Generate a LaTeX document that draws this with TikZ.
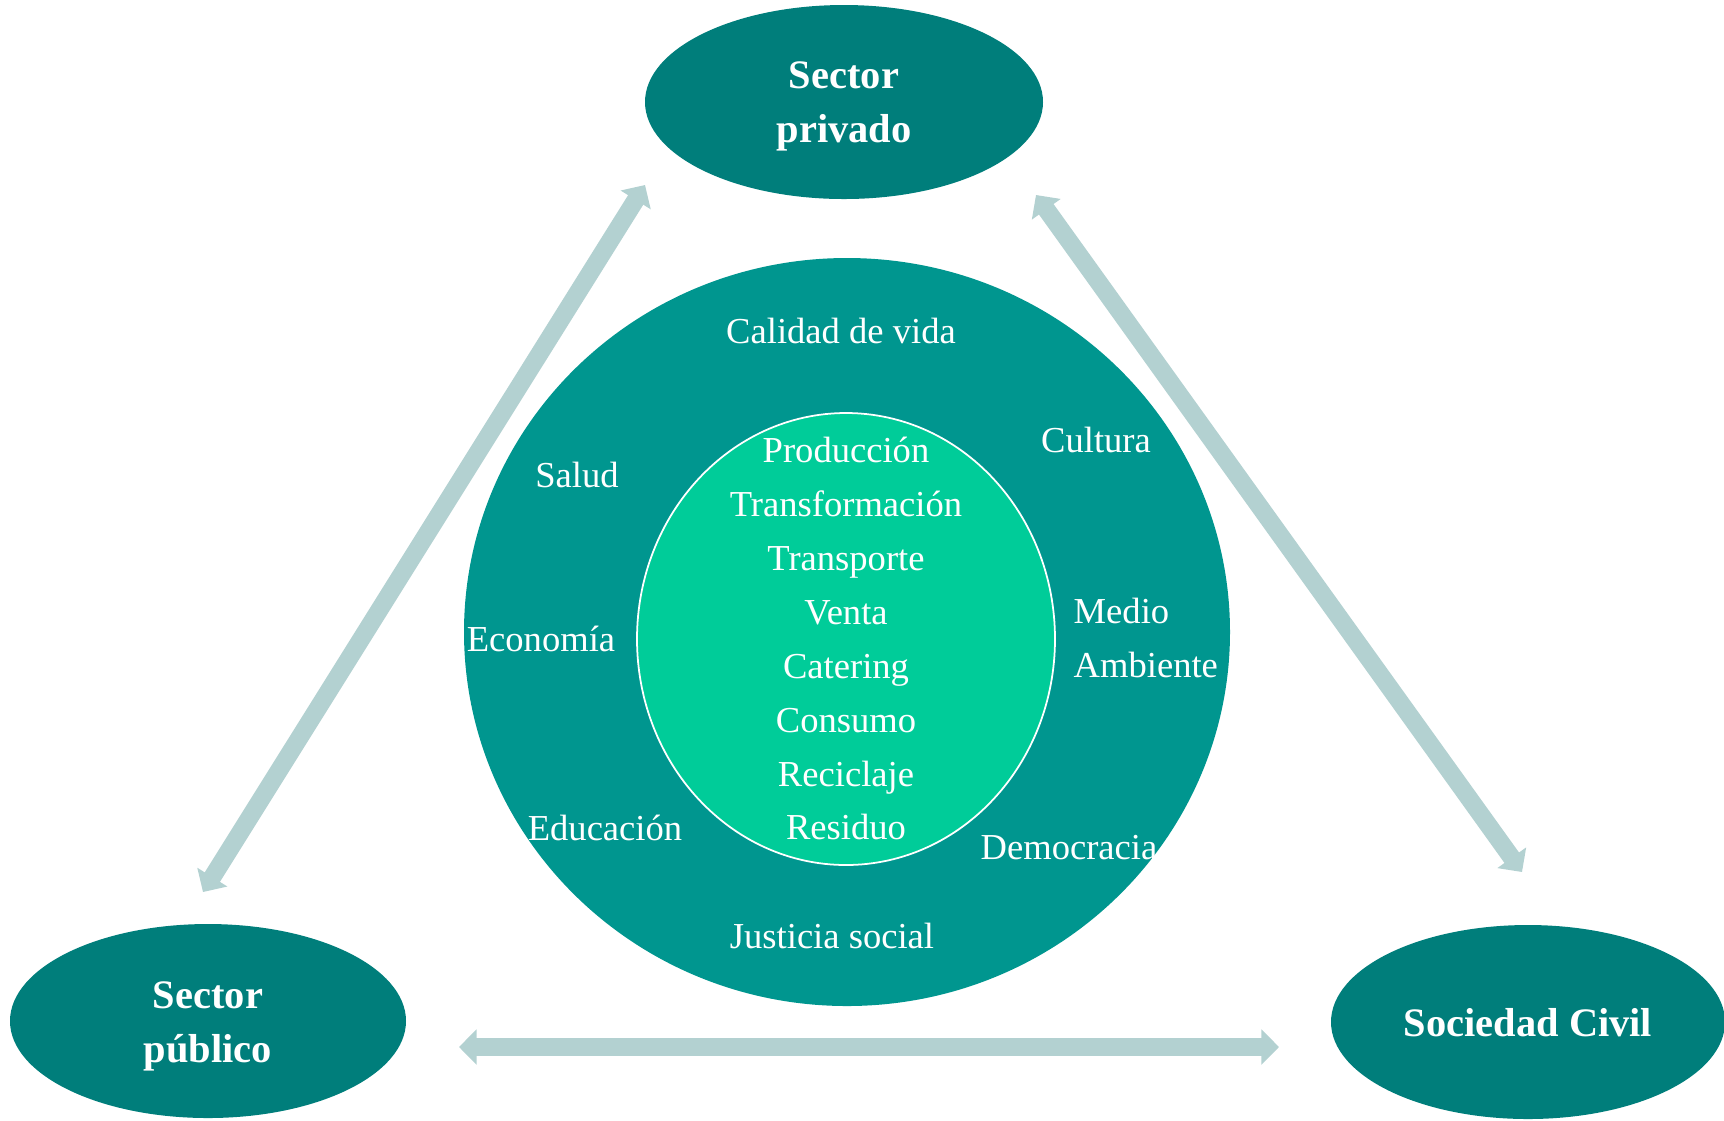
\documentclass[tikz,border=0pt]{standalone}
\usepackage{fontspec}
\setmainfont{Liberation Serif}
\usetikzlibrary{arrows.meta}
\definecolor{darkteal}{HTML}{007E7B}
\definecolor{midteal}{HTML}{00968F}
\definecolor{lightgreen}{HTML}{00CC99}
\definecolor{arrowgray}{HTML}{B3D1D1}
\begin{document}
\begin{tikzpicture}[x=0.01cm,y=-0.01cm,
  actorlbl/.style={text=white, font=\fontsize{11.5}{15.4}\selectfont\bfseries, align=center},
  lbl/.style={text=white, font=\fontsize{10.4}{15.4}\selectfont, inner sep=0pt, text height=7pt, text depth=2pt, yshift=-0.045cm},
  link/.style={line width=5.1pt, draw=arrowgray, {Triangle[width=9.8pt,length=5pt]}-{Triangle[width=9.8pt,length=5pt]}}
]
\useasboundingbox (0,0) rectangle (1724,1120);
% big circle
\fill[midteal] (847,632) ellipse [x radius=383, y radius=374];
\fill[lightgreen] (846,639) ellipse [x radius=209, y radius=226];
\draw[white, line width=0.5pt] (846,639) ellipse [x radius=209, y radius=226];
% actor ellipses
\fill[darkteal] (844,102) ellipse [x radius=199, y radius=97];
\fill[darkteal] (208,1021) ellipse [x radius=198, y radius=97];
\fill[darkteal] (1528,1022) ellipse [x radius=197, y radius=97];
\node[actorlbl] (priv) at (844,106) {Sector\\privado};
\node[actorlbl] (pub) at (208,1026) {Sector\\público};
\node[actorlbl] (civ) at (1528,1023) {Sociedad Civil};
% arrows
\coordinate (a1) at (203,892);
\coordinate (a2) at (645,185);
\coordinate (b1) at (1036,195);
\coordinate (b2) at (1522,872);
\coordinate (c1) at (459,1047);
\coordinate (c2) at (1279,1047);
\draw[link] (a1) -- (a2);
\draw[link] (b1) -- (b2);
\draw[link] (c1) -- (c2);
% outer ring labels
\node[lbl] (cal) at (841,330) {Calidad de vida};
\node[lbl] (sal) at (577,474) {Salud};
\node[lbl] (cul) at (1096,439) {Cultura};
\node[lbl] (eco) at (541,638) {Economía};
\node[lbl, anchor=west] (med) at (1073,610) {Medio};
\node[lbl, anchor=west] (amb) at (1073,664) {Ambiente};
\node[lbl] (edu) at (605,827) {Educación};
\node[lbl] (dem) at (1069,846) {Democracia};
\node[lbl] (jus) at (832,935) {Justicia social};
% inner labels
\node[lbl] (i1) at (846,449) {Producción};
\node[lbl] (i2) at (846,503) {Transformación};
\node[lbl] (i3) at (846,557) {Transporte};
\node[lbl] (i4) at (846,611) {Venta};
\node[lbl] (i5) at (846,665) {Catering};
\node[lbl] (i6) at (846,719) {Consumo};
\node[lbl] (i7) at (846,773) {Reciclaje};
\node[lbl] (i8) at (846,826) {Residuo};
\end{tikzpicture}
\end{document}
